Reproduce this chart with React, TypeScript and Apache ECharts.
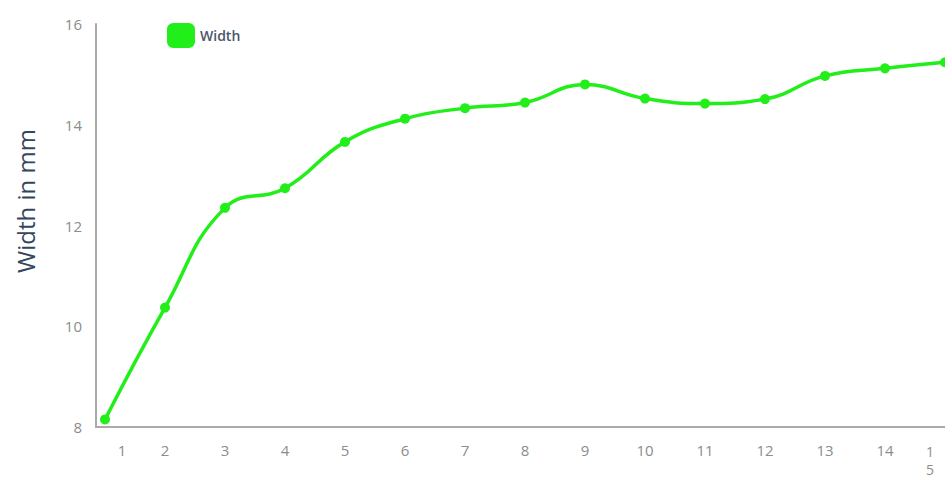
import React, { useEffect, useRef } from "react";
import * as echarts from "echarts";

// Sample number along the x axis
const sampleIds: number[] = [1, 2, 3, 4, 5, 6, 7, 8, 9, 10, 11, 12, 13, 14, 15];
// Measured width (mm) at each sample
const widthMm: number[] = [
  8.15, 10.37, 12.35, 12.74, 13.66, 14.12, 14.33, 14.44, 14.8, 14.52, 14.42, 14.51, 14.97, 15.12, 15.24,
];
// Y axis tick values
const yTicks: number[] = [8, 10, 12, 14, 16];

const GREEN = "#22ee1a";
const LABEL_GREY = "#8c8c8c";

export default function App() {
  const ref = useRef<HTMLDivElement>(null);

  useEffect(() => {
    if (!ref.current) return;
    const chart = echarts.init(ref.current, null, { renderer: "svg" });
    const data = sampleIds.map((x, i) => [x, widthMm[i]]);

    chart.setOption({
      animation: false,
      backgroundColor: "#ffffff",
      grid: {
        left: 96,
        right: 0,
        top: 24,
        bottom: 50,
        containLabel: false,
        outerBoundsMode: "none",
      },
      legend: {
        show: true,
        left: 162,
        top: 18,
        itemWidth: 28,
        itemHeight: 25,
        itemGap: 10,
        icon: "roundRect",
        textStyle: {
          fontSize: 14,
          fontWeight: 600,
          color: "#4a5568",
          fontFamily: "Open Sans",
          padding: [2, 0, 0, 0],
        },
        data: [{ name: "Width", itemStyle: { color: GREEN } }],
      },
      graphic: [
        {
          type: "text",
          x: 25,
          y: 201,
          rotation: Math.PI / 2,
          style: {
            text: "Width in mm",
            fontSize: 24,
            fontFamily: "Open Sans",
            fill: "#34465e",
            align: "center",
            verticalAlign: "middle",
          },
        },
      ],
      xAxis: {
        type: "value",
        min: 0.85,
        max: 15,
        axisLine: { show: true, lineStyle: { color: "#aaaaaa", width: 2 } },
        axisTick: { show: false },
        splitLine: { show: false },
        axisLabel: {
          customValues: sampleIds,
          showMinLabel: true,
          showMaxLabel: true,
          hideOverlap: false,
          margin: 15,
          color: LABEL_GREY,
          fontSize: 15,
          fontFamily: "Open Sans",
          formatter: (v: number) => {
            if (v === 1) return "{first|1}";
            if (v === 15) return "{last|1}\n{last|5}";
            return String(v);
          },
          rich: {
            first: { padding: [0, 0, 0, 34], fontSize: 15, color: LABEL_GREY, fontFamily: "Open Sans" },
            last: { padding: [0, 30, 0, 0], fontSize: 14, lineHeight: 18, color: LABEL_GREY, fontFamily: "Open Sans" },
          },
        },
      },
      yAxis: {
        type: "value",
        min: yTicks[0],
        max: yTicks[yTicks.length - 1],
        interval: 2,
        axisLine: { show: true, lineStyle: { color: "#aaaaaa", width: 2 } },
        axisTick: { show: false },
        splitLine: { show: false },
        axisLabel: { margin: 14, color: LABEL_GREY, fontSize: 15, fontFamily: "Open Sans" },
      },
      series: [
        {
          name: "Width",
          type: "line",
          data,
          smooth: 0.45,
          symbol: "circle",
          symbolSize: 10,
          clip: false,
          lineStyle: { color: GREEN, width: 3.5 },
          itemStyle: { color: GREEN },
        },
      ],
    });

    return () => chart.dispose();
  }, []);

  return (
    <div
      ref={ref}
      style={{ position: "fixed", left: 0, top: 0, width: 945, height: 477 }}
    />
  );
}
